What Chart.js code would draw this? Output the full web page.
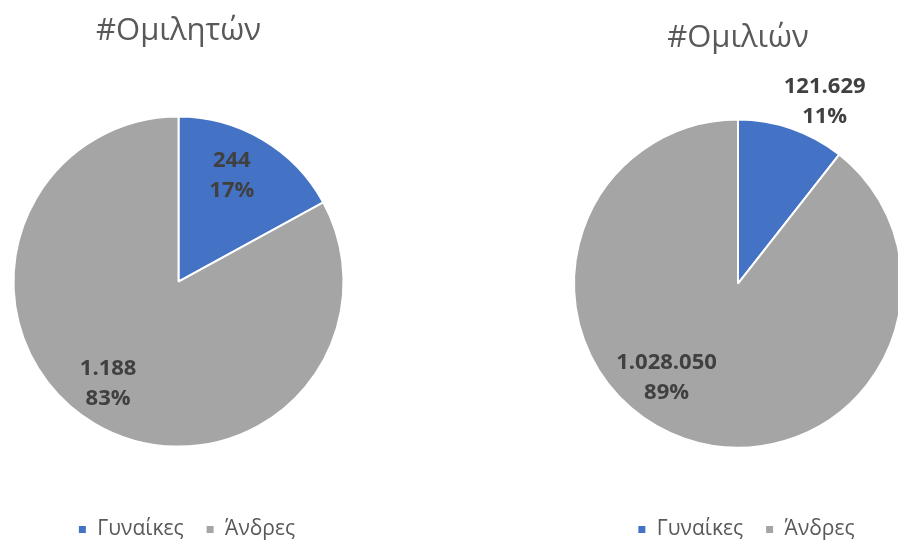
<!DOCTYPE html>
<html>
<head>
<meta charset="utf-8">
<script src="https://cdn.jsdelivr.net/npm/chart.js@4.4.1/dist/chart.umd.min.js"></script>
<style>
  html, body { margin: 0; padding: 0; background: #ffffff; }
  #wrap { position: relative; width: 898px; height: 540px; overflow: hidden; background: #ffffff; }
  .box { position: absolute; top: 0; height: 540px; }
  #leftBox { left: 0px; width: 357px; }
  #rightBox { left: 568px; width: 340px; }
</style>
</head>
<body>
<div id="wrap">
  <div class="box" id="leftBox"><canvas id="c1"></canvas></div>
  <div class="box" id="rightBox"><canvas id="c2"></canvas></div>
</div>
<script>
// ---- data ----
const categories = ['Γυναίκες', 'Άνδρες'];
const speakersValues = [244, 1188];
const speechesValues = [121629, 1028050];
const speakersTitle = '#Ομιλητών';
const speechesTitle = '#Ομιλιών';

// ---- styles ----
const sliceColors = ['#4472C4', '#A5A5A5'];
const FONT = "'Open Sans', 'Noto Sans', sans-serif";

function fmtNum(v) {
  return String(v).replace(/\B(?=(\d{3})+(?!\d))/g, '.');
}

// label placement relative to each arc: [angle shift (deg), fraction of outer radius]
const placeLeft = [[-4, 0.72], [4, 0.75]];
const placeRight = [[6.4, 1.23], [18.2, 0.72]];

const labelPlugin = {
  id: 'sliceLabels',
  afterLayout(chart) {
    // nudge the legend slightly right, as in the reference
    if (chart.legend) {
      chart.legend.left += 8;
      chart.legend.right += 8;
    }
  },
  afterDatasetsDraw(chart, args, opts) {
    const ctx = chart.ctx;
    const meta = chart.getDatasetMeta(0);
    const data = chart.data.datasets[0].data;
    const total = data.reduce((a, b) => a + b, 0);
    ctx.save();
    ctx.font = 'bold 22px ' + FONT;
    ctx.fillStyle = '#404040';
    ctx.textAlign = 'center';
    ctx.textBaseline = 'middle';
    meta.data.forEach((arc, i) => {
      const p = arc.getProps(['x', 'y', 'startAngle', 'endAngle', 'outerRadius'], true);
      const mid = (p.startAngle + p.endAngle) / 2 + opts.place[i][0] * Math.PI / 180;
      const r = p.outerRadius * opts.place[i][1];
      const x = p.x + Math.cos(mid) * r;
      const y = p.y + Math.sin(mid) * r;
      const pct = Math.round(data[i] / total * 100) + '%';
      ctx.fillText(fmtNum(data[i]), x, y - 15);
      ctx.fillText(pct, x, y + 15);
    });
    ctx.restore();
  }
};

function makePie(id, title, values, place, titlePad, layoutPad, radius) {
  return new Chart(document.getElementById(id), {
    type: 'pie',
    data: {
      labels: categories,
      datasets: [{
        data: values,
        backgroundColor: sliceColors,
        borderColor: '#ffffff',
        borderWidth: 2,
        hoverOffset: 0
      }]
    },
    options: {
      responsive: true,
      maintainAspectRatio: false,
      animation: false,
      events: [],
      radius: radius,
      layout: { padding: layoutPad },
      plugins: {
        title: {
          display: true,
          text: title,
          color: '#595959',
          font: { family: FONT, size: 31, weight: 'normal' },
          padding: titlePad
        },
        legend: {
          display: true,
          position: 'bottom',
          labels: {
            color: '#595959',
            font: { family: FONT, size: 21 },
            boxWidth: 9,
            boxHeight: 9,
            padding: 22
          }
        },
        tooltip: { enabled: false },
        sliceLabels: { place: place }
      }
    },
    plugins: [labelPlugin]
  });
}

makePie('c1', speakersTitle, speakersValues, placeLeft, { top: 13, bottom: 16 }, { top: 0, bottom: -10 }, 165);
makePie('c2', speechesTitle, speechesValues, placeRight, { top: 20, bottom: 13 }, { top: 0, bottom: -10 }, 164);
</script>
</body>
</html>
